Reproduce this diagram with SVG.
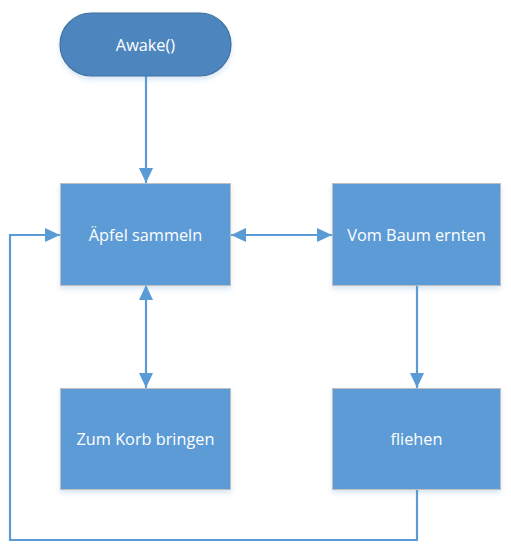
<svg xmlns="http://www.w3.org/2000/svg" width="511" height="553" viewBox="0 0 511 553">
<style>
.box{fill:#5B9BD5;stroke:#BFBFBF;stroke-width:1}
.term{fill:#4E86BE;stroke:#41719C;stroke-width:1.2}
.lbl{font-family:"Open Sans","Liberation Sans",sans-serif;font-size:16.3px;fill:#FFFFFF;text-anchor:middle;dominant-baseline:central}
.con{fill:none;stroke:#5B9BD5;stroke-width:2.2}
</style>
<defs>
<marker id="ah" viewBox="0 0 15 14" refX="15" refY="7" markerWidth="15" markerHeight="14" markerUnits="userSpaceOnUse" orient="auto-start-reverse">
<path d="M0,0 L15,7 L0,14 Z" fill="#5B9BD5"/>
</marker>
<filter id="sh" x="-10%" y="-10%" width="120%" height="130%">
<feDropShadow dx="0" dy="3" stdDeviation="2.5" flood-color="#5B9BD5" flood-opacity="0.25"/>
</filter>
</defs>
<g id="connectors">
<line class="con" x1="146" y1="76" x2="146" y2="183" marker-end="url(#ah)"/>
<line class="con" x1="231" y1="235" x2="332" y2="235" marker-start="url(#ah)" marker-end="url(#ah)"/>
<line class="con" x1="146" y1="285" x2="146" y2="388" marker-start="url(#ah)" marker-end="url(#ah)"/>
<line class="con" x1="417" y1="285" x2="417" y2="388" marker-end="url(#ah)"/>
<polyline class="con" points="417,489 417,540 10,540 10,235 60,235" marker-end="url(#ah)"/>
</g>
<g id="awake">
<rect class="term" x="60" y="13" width="171" height="63" rx="31.5" ry="31.5" filter="url(#sh)"/>
<text class="lbl" x="145.5" y="45">Awake()</text>
</g>
<g id="aepfel">
<rect class="box" x="60.5" y="183.5" width="170" height="102" filter="url(#sh)"/>
<text class="lbl" x="145.5" y="235">Äpfel sammeln</text>
</g>
<g id="baum">
<rect class="box" x="332.5" y="183.5" width="168" height="102" filter="url(#sh)"/>
<text class="lbl" x="416.5" y="235">Vom Baum ernten</text>
</g>
<g id="korb">
<rect class="box" x="60.5" y="388.5" width="170" height="101" filter="url(#sh)"/>
<text class="lbl" x="145.5" y="439">Zum Korb bringen</text>
</g>
<g id="fliehen">
<rect class="box" x="332.5" y="388.5" width="168" height="101" filter="url(#sh)"/>
<text class="lbl" x="416.5" y="439">fliehen</text>
</g>
</svg>
